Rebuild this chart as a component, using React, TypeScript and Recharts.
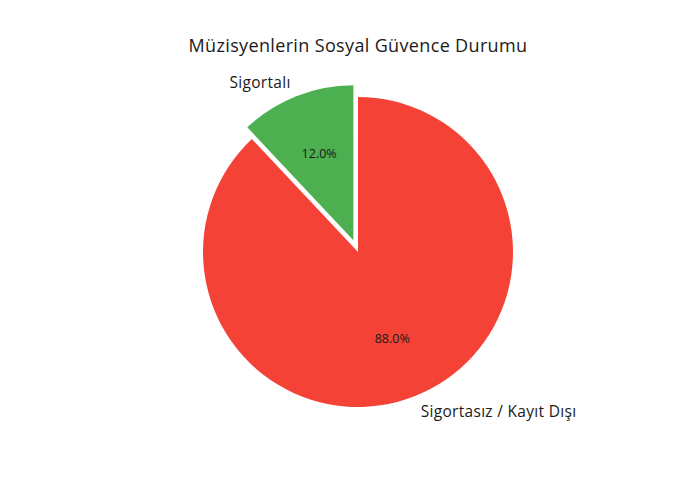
import React from "react";
import { PieChart, Pie, Cell } from "recharts";

const categories = ["Sigortalı", "Sigortasız / Kayıt Dışı"];
const values = [12, 88];
const colors = ["#4caf50", "#f44336"];
const title = "Müzisyenlerin Sosyal Güvence Durumu";

const data = categories.map((name, i) => ({ name, value: values[i] }));

const FONT = "'Open Sans', Roboto, sans-serif";
const CX = 353;
const CY = 247;
const R = 155;
const EXPLODE = 12.6;
const RADIAN = Math.PI / 180;
const midGreen = 90 + (values[0] / 100) * 360 / 2;
const GX = CX + EXPLODE * Math.cos(midGreen * RADIAN);
const GY = CY - EXPLODE * Math.sin(midGreen * RADIAN);

const makeLabel = (only: number) => (props: any) => {
  const { cx, cy, midAngle, outerRadius, index, percent, name } = props;
  if (index !== only) return null;
  const c = Math.cos(-midAngle * RADIAN);
  const s = Math.sin(-midAngle * RADIAN);
  const lx = cx + outerRadius * 1.1 * c;
  const ly = cy + outerRadius * 1.1 * s;
  const px = cx + outerRadius * 0.6 * c;
  const py = cy + outerRadius * 0.6 * s;
  return (
    <g>
      <text
        x={lx}
        y={ly}
        textAnchor={c >= 0 ? "start" : "end"}
        dominantBaseline="central"
        fontFamily={FONT}
        fontSize={15.5}
        letterSpacing={0.3}
        fill="#1a1a1a"
      >
        {name}
      </text>
      <text
        x={px}
        y={py}
        textAnchor="middle"
        dominantBaseline="central"
        fontFamily={FONT}
        fontSize={12.5}
        fill="#1a1a1a"
      >
        {(percent * 100).toFixed(1) + "%"}
      </text>
    </g>
  );
};

export default function App() {
  return (
    <div style={{ position: "absolute", left: 0, top: 0, width: 700, height: 500, background: "#fff" }}>
      <div
        style={{
          position: "absolute",
          left: 0,
          top: 33,
          width: 716,
          textAlign: "center",
          fontFamily: FONT,
          fontSize: 18,
          letterSpacing: "0.35px",
          color: "#1a1a1a",
          lineHeight: "24px",
        }}
      >
        {title}
      </div>
      <PieChart width={700} height={500}>
        <Pie
          data={data}
          dataKey="value"
          nameKey="name"
          cx={CX}
          cy={CY}
          outerRadius={R}
          startAngle={90}
          endAngle={450}
          stroke="none"
          isAnimationActive={false}
          labelLine={false}
          label={makeLabel(1)}
        >
          {data.map((d, i) => (
            <Cell key={d.name} fill={i === 1 ? colors[i] : "transparent"} />
          ))}
        </Pie>
        <Pie
          data={data}
          dataKey="value"
          nameKey="name"
          cx={GX}
          cy={GY}
          outerRadius={R}
          startAngle={90}
          endAngle={450}
          stroke="none"
          isAnimationActive={false}
          labelLine={false}
          label={makeLabel(0)}
        >
          {data.map((d, i) => (
            <Cell key={d.name} fill={i === 0 ? colors[i] : "transparent"} />
          ))}
        </Pie>
      </PieChart>
    </div>
  );
}
